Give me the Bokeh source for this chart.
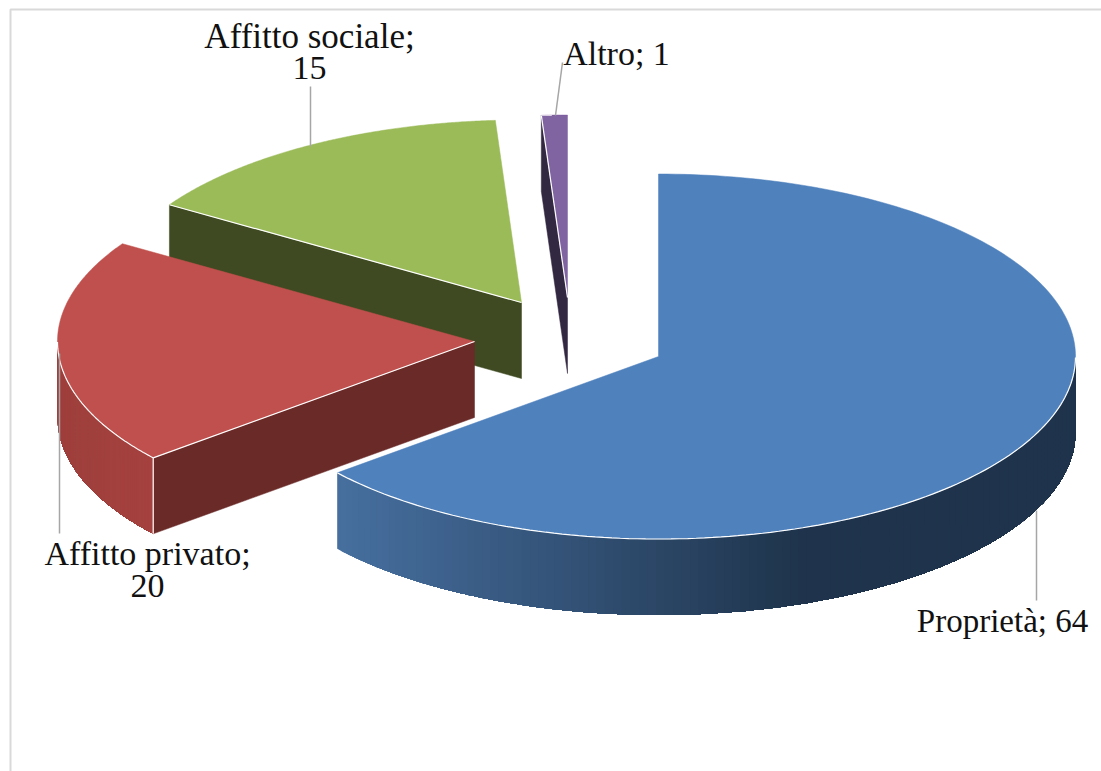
import numpy as np
from bokeh.embed import file_html
from bokeh.models import Range1d
from bokeh.plotting import figure
from bokeh.resources import INLINE
from bokeh.core.properties import value

# Housing tenure shares
categories = ["Proprietà", "Affitto privato", "Affitto sociale", "Altro"]
shares = [64, 20, 15, 1]

top_colors = ["#4f81bd", "#c0504d", "#9bbb59", "#8064a2"]
wall_colors = ["#1f344c", "#6a2a28", "#3f4a22", "#332841"]
rim_light = {"Proprietà": "#466f9f", "Affitto privato": "#a5423f"}
rim_dark = {"Proprietà": "#1f344c", "Affitto privato": "#9e3f3c"}

WIDTH, HEIGHT = 1101, 771
RX, RY, DEPTH = 417.0, 182.5, 76.0
# Apex of each exploded slice, in screen pixels
apex = [(658, 356), (474, 341), (521, 302), (567, 297)]

p = figure(width=WIDTH, height=HEIGHT, output_backend="svg", toolbar_location=None,
           x_range=Range1d(0, WIDTH), y_range=Range1d(HEIGHT, 0),
           min_border=0, outline_line_color=None)
p.axis.visible = False
p.grid.visible = False
p.background_fill_color = "white"
p.border_fill_color = "white"

# Chart frame, open to the right and below
p.line([10, 10, WIDTH], [HEIGHT, 9, 9], line_color="#d9d9d9", line_width=2)


def rim(cx, cy, t):
    return cx + RX * np.sin(t), cy - RY * np.cos(t)


def blend(a, b, f):
    ca = [int(a[i:i + 2], 16) for i in (1, 3, 5)]
    cb = [int(b[i:i + 2], 16) for i in (1, 3, 5)]
    return "#%02x%02x%02x" % tuple(round(u + (v - u) * f) for u, v in zip(ca, cb))


edges = np.cumsum([0] + shares) / sum(shares) * 2 * np.pi
slices = list(zip(categories, edges[:-1], edges[1:], apex, top_colors, wall_colors))

# Back slices first, so nearer ones overlap them
for name, t0, t1, (cx, cy), top, wall in reversed(slices):
    ex0, ey0 = rim(cx, cy, t0)
    ex1, ey1 = rim(cx, cy, t1)

    # Cut face at the start of the slice, visible on all but the largest one
    if name != "Proprietà":
        p.patch([cx, ex0, ex0, cx], [cy, ey0, ey0 + DEPTH, cy + DEPTH],
                fill_color=wall, line_color=wall, line_width=0.5)

    # Outer curved wall: each band is painted over the previous one down to the
    # far end of the wall, which leaves no hairlines between the bands
    if name in rim_light:
        lo = max(t0, np.pi / 2)
        hi = min(t1, 3 * np.pi / 2)
        arc = np.linspace(lo, hi, 360)
        ax, ay = rim(cx, cy, arc)
        xmin, xmax = ax.min(), ax.max()
        if ax[0] > ax[-1]:
            # Walk from the left end of the wall to its right end
            ax, ay = ax[::-1], ay[::-1]
        bands = 120
        cuts = np.linspace(0, len(ax) - 1, bands + 1).astype(int)
        for c in cuts[:-1]:
            if name == "Proprietà":
                f = min(1.0, (ax[c] - xmin) / (0.62 * (xmax - xmin)))
            else:
                f = 1 - (ax[c] - xmin) / (xmax - xmin)
            shade = blend(rim_light[name], rim_dark[name], f)
            p.patch(np.r_[ax[c:], ax[c:][::-1]], np.r_[ay[c:], (ay[c:] + DEPTH)[::-1]],
                    fill_color=shade, line_color=None)

    # Top face
    ts = np.linspace(t0, t1, 200)
    xs, ys = rim(cx, cy, ts)
    p.patch(np.r_[cx, xs], np.r_[cy, ys], fill_color=top, line_color=top, line_width=0.5)

    # Thin white highlights along the front edges
    if name != "Proprietà":
        p.line([ex0, cx], [ey0, cy], line_color="white", line_width=1.2)
    if name == "Affitto privato":
        p.line([ex0, ex0], [ey0, ey0 + DEPTH], line_color="white", line_width=1.2)
    front = ts[(ts > np.pi / 2) & (ts < 3 * np.pi / 2)]
    if len(front):
        fx, fy = rim(cx, cy, front)
        p.line(fx, fy, line_color="white", line_width=1.2)

# Leader lines from each slice to its label
leaders = {
    "Proprietà": ([1036, 1036], [510, 600]),
    "Affitto privato": ([59, 59], [353, 533]),
    "Affitto sociale": ([310, 310], [146, 86]),
    "Altro": ([555, 562], [115, 62]),
}
for xs, ys in leaders.values():
    p.line(xs, ys, line_color="#a6a6a6", line_width=1.5)

# Data labels
font = value("Liberation Serif")
label_rows = [
    (1002, 620, f"{categories[0]}; {shares[0]}", "33px"),
    (147, 553, f"{categories[1]};", "34px"),
    (147, 585, f"{shares[1]}", "34px"),
    (309, 36, f"{categories[2]};", "35px"),
    (309, 67, f"{shares[2]}", "34px"),
    (616, 53, f"{categories[3]}; {shares[3]}", "34px"),
]
for x, y, t, size in label_rows:
    p.text([x], [y], text=[t], text_font=font, text_font_size=size, text_color="#111111",
           text_align="center", text_baseline="middle")

open("out.html", "w").write(file_html(p, INLINE))
